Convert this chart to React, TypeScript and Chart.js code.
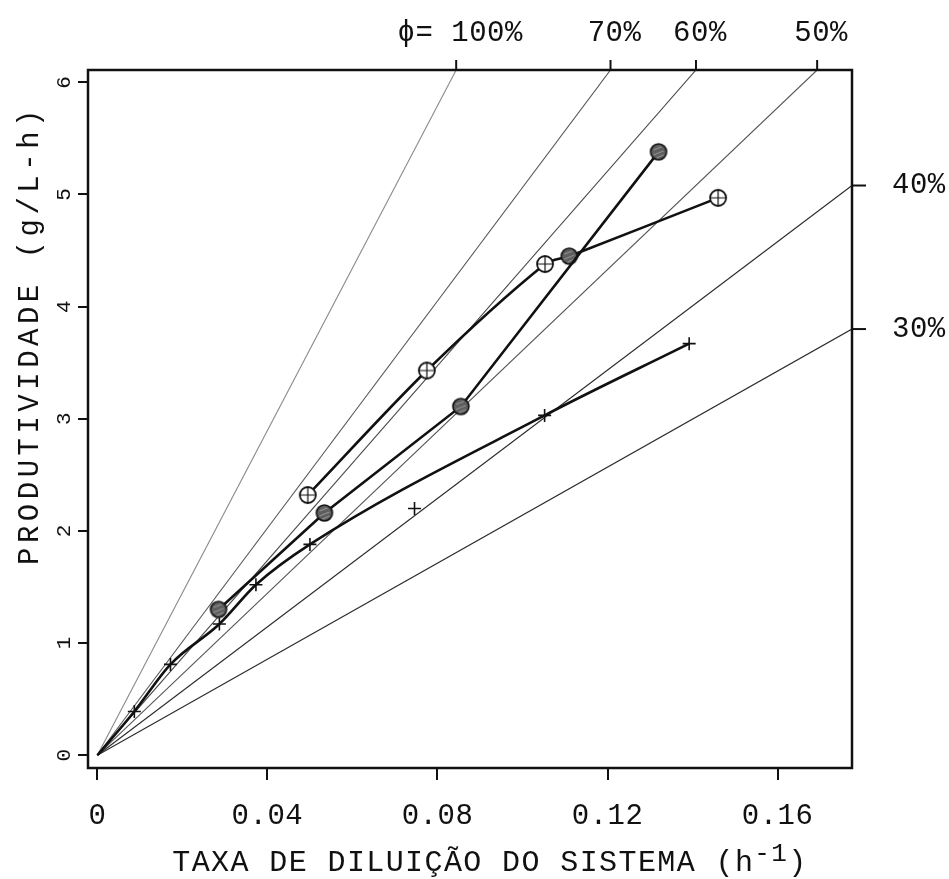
import React, { useEffect, useRef } from 'react';
import { Chart, registerables } from 'chart.js';

Chart.register(...registerables);

// Axis ticks
const xTickValues = [0, 0.04, 0.08, 0.12, 0.16];
const xTickLabels = ['0', '0.04', '0.08', '0.12', '0.16'];
const yTickValues = [0, 1, 2, 3, 4, 5, 6];
const yTickLabels = ['0', '1', '2', '3', '4', '5', '6'];
const xRange = [-0.0022, 0.1775];
const yRange = [-0.114, 6.11];

// Reference lines (phi), from origin to where they meet the frame
const rayLabels = ['ϕ= 100%', '70%', '60%', '50%', '40%', '30%'];
const rayEndD = [0.0844, 0.1207, 0.1408, 0.1693, 0.1775, 0.1775];
const rayEndP = [6.11, 6.11, 6.11, 6.11, 5.08, 3.8];
const rayColors = ['#8a8a8a', '#555555', '#444444', '#555555', '#2a2a2a', '#2a2a2a'];

// Series: crosses (curve starts at origin)
const crossD = [0, 0.0087, 0.0172, 0.0287, 0.0373, 0.05, 0.1052, 0.1392];
const crossP = [0, 0.39, 0.81, 1.17, 1.52, 1.88, 3.03, 3.67];
const crossOffD = [0.0746];
const crossOffP = [2.2];

// Series: filled circles
const filledD = [0.0285, 0.0534, 0.0855, 0.132];
const filledP = [1.3, 2.16, 3.11, 5.38];

// Series: open crossed circles (one point drawn filled)
const openD = [0.0495, 0.0775, 0.1053, 0.111, 0.146];
const openP = [2.32, 3.43, 4.38, 4.45, 4.97];
const openIsFilled = [false, false, false, true, false];

const FONT = '"Liberation Mono", "DejaVu Sans Mono", monospace';

function pts(xs: number[], ys: number[]) {
  return xs.map((x, i) => ({ x, y: ys[i] }));
}

export default function App() {
  const ref = useRef<HTMLCanvasElement>(null);

  useEffect(() => {
    document.body.style.margin = '0';
    document.body.style.overflow = 'hidden';
    const canvas = ref.current;
    if (!canvas) return;

    const mk = (draw: (g: CanvasRenderingContext2D) => void) => {
      const c = document.createElement('canvas');
      c.width = 22;
      c.height = 22;
      const g = c.getContext('2d') as CanvasRenderingContext2D;
      draw(g);
      return c;
    };
    const openImg = mk((g) => {
      g.beginPath();
      g.arc(11, 11, 8, 0, Math.PI * 2);
      g.fillStyle = '#ffffff';
      g.fill();
      g.lineWidth = 1.8;
      g.strokeStyle = '#111';
      g.stroke();
      g.beginPath();
      g.moveTo(4, 11);
      g.lineTo(18, 11);
      g.moveTo(11, 4);
      g.lineTo(11, 18);
      g.lineWidth = 1.2;
      g.stroke();
    });
    const filledImg = mk((g) => {
      g.beginPath();
      g.arc(11, 11, 8, 0, Math.PI * 2);
      g.fillStyle = '#5e5e5e';
      g.fill();
      g.lineWidth = 1.6;
      g.strokeStyle = '#111';
      g.stroke();
      g.strokeStyle = '#9a9a9a';
      g.lineWidth = 1;
      g.beginPath();
      g.moveTo(6, 9);
      g.lineTo(14, 6);
      g.moveTo(6, 14);
      g.lineTo(16, 10);
      g.moveTo(9, 17);
      g.lineTo(16, 14);
      g.stroke();
    });

    const rayDatasets = rayLabels.map((lab, i) => ({
      label: lab,
      data: [{ x: 0, y: 0 }, { x: rayEndD[i], y: rayEndP[i] }],
      borderColor: rayColors[i],
      borderWidth: 1.1,
      pointRadius: 0,
      tension: 0,
      order: 10,
    }));

    const deco = {
      id: 'deco',
      afterDraw(chart: any) {
        const { ctx, chartArea: a, scales } = chart;
        const xs = scales.x;
        const ys = scales.y;
        ctx.save();
        // frame
        ctx.strokeStyle = '#111';
        ctx.lineWidth = 2.5;
        ctx.strokeRect(a.left, a.top, a.right - a.left, a.bottom - a.top);

        // ray end ticks and labels
        ctx.fillStyle = '#111';
        ctx.font = '29px ' + FONT;
        (ctx as any).letterSpacing = '0.5px';
        rayLabels.forEach((lab, i) => {
          const px = xs.getPixelForValue(rayEndD[i]);
          const py = ys.getPixelForValue(rayEndP[i]);
          ctx.lineWidth = 2;
          ctx.strokeStyle = '#111';
          ctx.beginPath();
          if (rayEndP[i] >= yRange[1] - 1e-6) {
            ctx.moveTo(px, a.top);
            ctx.lineTo(px, a.top - 10);
            ctx.stroke();
            ctx.textAlign = 'center';
            ctx.textBaseline = 'alphabetic';
            ctx.fillText(lab, px + 4, a.top - 29);
          } else {
            ctx.moveTo(a.right, py);
            ctx.lineTo(a.right + 14, py);
            ctx.stroke();
            ctx.textAlign = 'left';
            ctx.textBaseline = 'middle';
            ctx.fillText(lab, a.right + 40, py);
          }
        });

        // x tick labels
        ctx.font = '29px ' + FONT;
        (ctx as any).letterSpacing = '0.5px';
        ctx.textAlign = 'center';
        ctx.textBaseline = 'alphabetic';
        xTickValues.forEach((v, i) => {
          ctx.fillText(xTickLabels[i], xs.getPixelForValue(v), 824);
        });

        // y tick labels (rotated)
        ctx.font = '21px ' + FONT;
        (ctx as any).letterSpacing = '0px';
        yTickValues.forEach((v, i) => {
          ctx.save();
          ctx.translate(a.left - 24, ys.getPixelForValue(v));
          ctx.rotate(-Math.PI / 2);
          ctx.textAlign = 'center';
          ctx.textBaseline = 'middle';
          ctx.fillText(yTickLabels[i], 0, 0);
          ctx.restore();
        });

        // y title
        ctx.save();
        ctx.font = '29px ' + FONT;
        (ctx as any).letterSpacing = '4.5px';
        ctx.translate(a.left - 58, 335);
        ctx.rotate(-Math.PI / 2);
        ctx.textAlign = 'center';
        ctx.textBaseline = 'middle';
        ctx.fillText('PRODUTIVIDADE (g/L-h)', 0, 0);
        ctx.restore();

        // x title with superscript
        ctx.font = '30px ' + FONT;
        (ctx as any).letterSpacing = '1.4px';
        ctx.textAlign = 'left';
        ctx.textBaseline = 'alphabetic';
        const main = 'TAXA DE DILUIÇÃO DO SISTEMA (h';
        const sup = '-1';
        const end = ')';
        const wMain = ctx.measureText(main).width;
        ctx.font = '26px ' + FONT;
        const wSup = ctx.measureText(sup).width;
        ctx.font = '30px ' + FONT;
        const wEnd = ctx.measureText(end).width;
        let sx = 490 - (wMain + wSup + wEnd) / 2;
        const base = 871;
        ctx.fillText(main, sx, base);
        sx += wMain;
        ctx.font = '26px ' + FONT;
        ctx.fillText(sup, sx, base - 10);
        sx += wSup;
        ctx.font = '30px ' + FONT;
        ctx.fillText(end, sx, base);
        ctx.restore();
      },
    };

    const chart = new Chart(canvas, {
      type: 'line',
      data: {
        datasets: [
          {
            label: 'cruzes',
            data: pts(crossD, crossP),
            borderColor: '#111',
            backgroundColor: '#111',
            borderWidth: 2.6,
            pointStyle: 'cross',
            pointRadius: crossD.map((d) => (d === 0 ? 0 : 6.5)),
            pointBorderWidth: 1.6,
            cubicInterpolationMode: 'monotone',
            order: 0,
          },
          {
            label: 'cruz isolada',
            data: pts(crossOffD, crossOffP),
            showLine: false,
            borderColor: '#111',
            pointStyle: 'cross',
            pointRadius: 6.5,
            pointBorderWidth: 1.6,
            order: 0,
          },
          {
            label: 'círculos cheios',
            data: pts(filledD, filledP),
            borderColor: '#111',
            borderWidth: 2.6,
            pointStyle: filledImg as any,
            pointRadius: 8,
            tension: 0,
            order: 0,
          },
          {
            label: 'círculos abertos',
            data: pts(openD, openP),
            borderColor: '#111',
            borderWidth: 2.6,
            pointStyle: openIsFilled.map((f) => (f ? filledImg : openImg)) as any,
            pointRadius: 8,
            tension: 0.3,
            order: 0,
          },
          ...rayDatasets,
        ] as any,
      },
      options: {
        responsive: false,
        animation: false,
        events: [],
        layout: { padding: { left: 78, top: 70, right: 97, bottom: 99 } },
        plugins: {
          legend: { display: false },
          tooltip: { enabled: false },
          title: { display: false },
        },
        scales: {
          x: {
            type: 'linear',
            min: xRange[0],
            max: xRange[1],
            afterBuildTicks: (s: any) => {
              s.ticks = xTickValues.map((v) => ({ value: v }));
            },
            ticks: { display: false },
            grid: {
              drawOnChartArea: false,
              drawTicks: true,
              tickLength: 12,
              color: '#111',
              lineWidth: 2,
            },
            border: { display: false },
          },
          y: {
            type: 'linear',
            min: yRange[0],
            max: yRange[1],
            afterBuildTicks: (s: any) => {
              s.ticks = yTickValues.map((v) => ({ value: v }));
            },
            ticks: { display: false },
            grid: {
              drawOnChartArea: false,
              drawTicks: true,
              tickLength: 10,
              color: '#111',
              lineWidth: 2,
            },
            border: { display: false },
          },
        },
      } as any,
      plugins: [deco],
    });

    return () => {
      chart.destroy();
    };
  }, []);

  return <canvas ref={ref} width={949} height={879} style={{ display: 'block' }} />;
}
